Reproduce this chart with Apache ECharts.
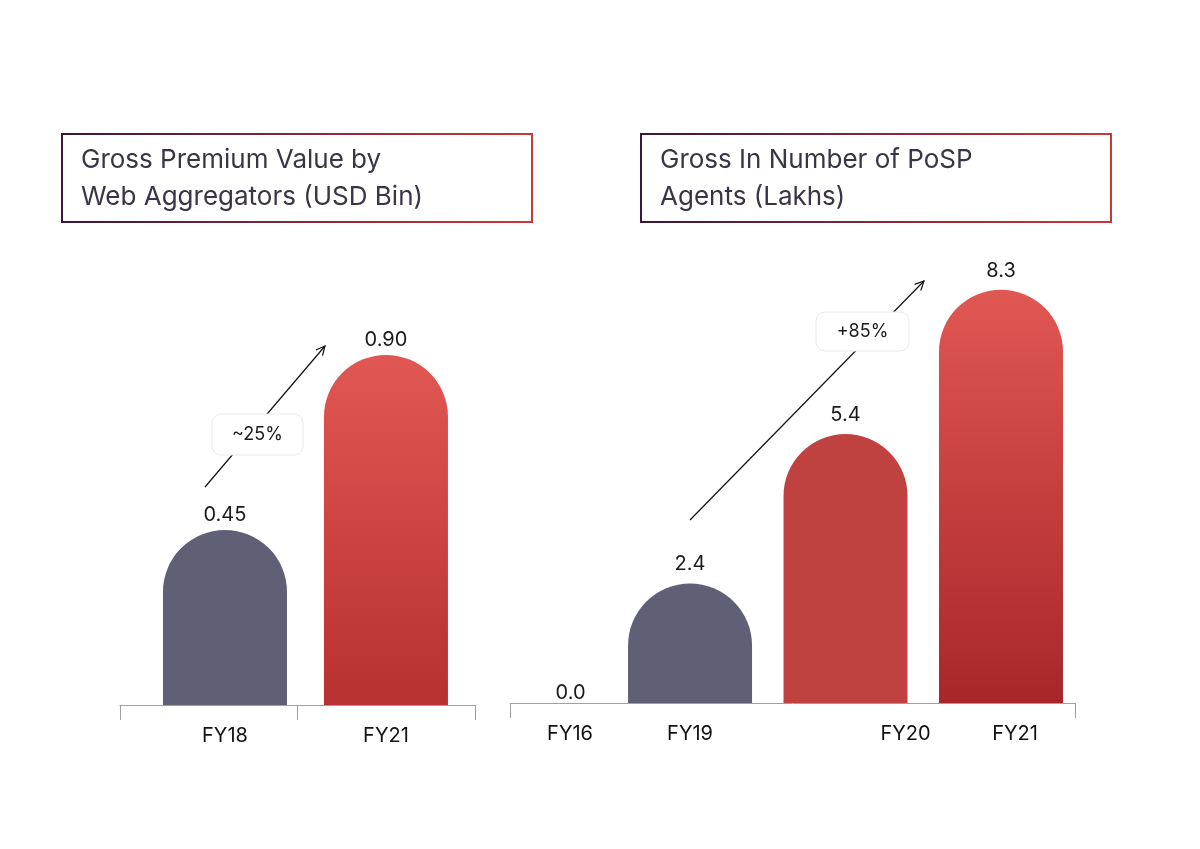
<!DOCTYPE html>
<html lang="en">
<head>
    <meta charset="UTF-8">
    <title>Web Aggregators and PoSP Agents</title>
    <script src="https://cdn.jsdelivr.net/npm/echarts@6/dist/echarts.min.js"></script>
    <style>
        html, body { margin: 0; padding: 0; background: #fff; }
        #chart { width: 1200px; height: 849px; }
    </style>
</head>
<body>
    <div id="chart"></div>
    <script>
        // left panel
        var premiumCats = ['FY18', 'FY21']
        var premiumVals = [0.45, 0.90]
        var premiumLabels = ['0.45', '0.90']
        // right panel
        var agentCats = ['FY16', 'FY19', 'FY20', 'FY21']
        var agentVals = [0.0, 2.4, 5.4, 8.3]
        var agentLabels = ['0.0', '2.4', '5.4', '8.3']

        var FONT = 'Inter, Lato, sans-serif'
        var GREY = '#5f6075'

        function redGrad(bottom) {
            return new echarts.graphic.LinearGradient(0, 0, 0, 1, [
                { offset: 0, color: '#e15753' },
                { offset: 1, color: bottom }
            ])
        }

        // label nudges (px) - the category text isn't centred under the bars in the source
        var agentNudge = [71, 0, 120, 28]

        function barItems(vals, labels, styles) {
            return vals.map(function (v, i) {
                var it = { value: [i, v], itemStyle: styles[i] }
                it.label = { formatter: labels[i] }
                if (v === 0) it.label.offset = [36, 9]
                return it
            })
        }

        function arrow(x1, y1, x2, y2) {
            var a = Math.atan2(y2 - y1, x2 - x1)
            var h = 10
            return [
                { type: 'line', shape: { x1: x1, y1: y1, x2: x2, y2: y2 }, style: { stroke: '#111', lineWidth: 1.2 } },
                {
                    type: 'polyline', shape: {
                        points: [
                            [x2 - h * Math.cos(a - 0.45), y2 - h * Math.sin(a - 0.45)],
                            [x2, y2],
                            [x2 - h * Math.cos(a + 0.45), y2 - h * Math.sin(a + 0.45)]
                        ]
                    }, style: { stroke: '#111', lineWidth: 1.2, fill: null }
                }
            ]
        }

        function pill(x, y, w, h, txt) {
            return [
                { type: 'rect', shape: { x: x, y: y, width: w, height: h, r: 9 }, style: { fill: '#fff', stroke: '#e8e8ea', lineWidth: 1 }, z: 10 },
                { type: 'text', x: x + w / 2, y: y + h / 2, style: { text: txt, fill: '#1a1a1a', font: '18px ' + FONT, align: 'center', verticalAlign: 'middle' }, z: 11 }
            ]
        }

        function titleBox(x, y, lines) {
            return [
                {
                    type: 'rect', shape: { x: x, y: y, width: 470, height: 88 },
                    style: {
                        fill: null, lineWidth: 2,
                        stroke: new echarts.graphic.LinearGradient(0, 0, 1, 0, [
                            { offset: 0, color: '#3a1838' },
                            { offset: 1, color: '#c9393b' }
                        ])
                    }
                },
                { type: 'text', x: x + 19, y: y + 26, style: { text: lines[0], fill: '#3a3446', font: '26px ' + FONT, verticalAlign: 'middle' } },
                { type: 'text', x: x + 19, y: y + 63, style: { text: lines[1], fill: '#3a3446', font: '26px ' + FONT, verticalAlign: 'middle' } }
            ]
        }

        function catAxis(gridIndex, cats, min, max, ticks, nudge) {
            var rich = {}
            cats.forEach(function (c, i) {
                rich['c' + i] = { fontSize: 20, color: '#111', fontFamily: FONT, padding: [0, 0, 0, nudge ? nudge[i] : 0] }
            })
            return {
                type: 'value', gridIndex: gridIndex, min: min, max: max,
                splitLine: { show: false },
                axisLine: { show: true, lineStyle: { color: '#a0a0a4', width: 1 } },
                axisTick: { show: true, length: 15, lineStyle: { color: '#a0a0a4' }, customValues: ticks },
                axisLabel: {
                    margin: 21,
                    customValues: cats.map(function (c, i) { return i }),
                    formatter: function (v) {
                        var i = Math.round(v)
                        return '{c' + i + '|' + cats[i] + '}'
                    },
                    rich: rich
                }
            }
        }

        function labelStyle(dist) {
            return { show: true, position: 'top', distance: dist, fontSize: 20, color: '#1a1a1a', fontFamily: FONT }
        }

        var option = {
            animation: false,
            backgroundColor: '#fff',
            grid: [
                { left: 120, width: 355, top: 316, bottom: 144 },
                { left: 510, width: 565, top: 205, bottom: 146 }
            ],
            xAxis: [
                catAxis(0, premiumCats, -0.652, 1.553, [-0.652, 0.447, 1.553]),
                catAxis(1, agentCats, -0.158, 3.476, [-0.158, 3.476], agentNudge)
            ],
            yAxis: [
                { type: 'value', gridIndex: 0, min: 0, max: 1, show: false },
                { type: 'value', gridIndex: 1, min: 0, max: 10, show: false }
            ],
            series: [
                {
                    type: 'bar', xAxisIndex: 0, yAxisIndex: 0, barWidth: 124,
                    label: labelStyle(5),
                    data: barItems(premiumVals, premiumLabels, [
                        { color: GREY, borderRadius: [62, 62, 0, 0] },
                        { color: redGrad('#b8302f'), borderRadius: [62, 62, 0, 0] }
                    ])
                },
                {
                    type: 'bar', xAxisIndex: 1, yAxisIndex: 1, barWidth: 124,
                    label: labelStyle(9),
                    data: barItems(agentVals, agentLabels, [
                        { color: GREY },
                        { color: GREY, borderRadius: [62, 62, 0, 0] },
                        { color: '#bf4240', borderRadius: [62, 62, 0, 0] },
                        { color: redGrad('#a8262a'), borderRadius: [62, 62, 0, 0] }
                    ])
                }
            ],
            graphic: [].concat(
                titleBox(62, 134, ['Gross Premium Value by', 'Web Aggregators (USD Bin)']),
                titleBox(641, 134, ['Gross In Number of PoSP', 'Agents (Lakhs)']),
                arrow(205, 487, 325, 346),
                pill(212, 414, 91, 41, '~25%'),
                arrow(690, 520, 924, 281),
                pill(816, 312, 93, 39, '+85%')
            )
        }

        var chart = echarts.init(document.getElementById('chart'))
        chart.setOption(option)
    </script>
</body>
</html>
